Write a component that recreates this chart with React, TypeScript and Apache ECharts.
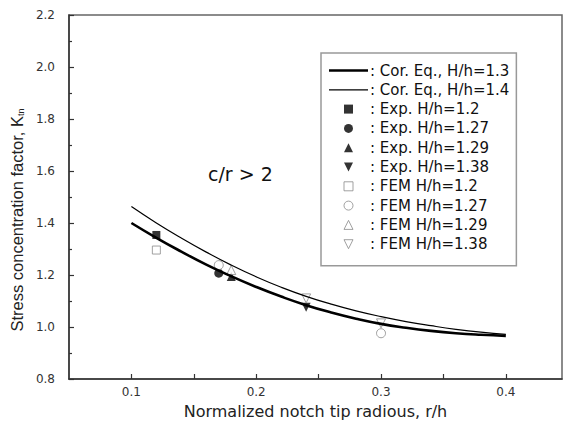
import React, { useEffect, useRef } from "react";
import * as echarts from "echarts";

const FONT = "'Liberation Sans', Arial, sans-serif";
const WIDE = "'DejaVu Sans', 'Liberation Sans', sans-serif";

// x-axis ticks / labels
const xTickValues = [0.1, 0.15, 0.2, 0.25, 0.3, 0.35, 0.4];
const xLabelValues = [0.1, 0.2, 0.3, 0.4];

// Correlation equations (curves)
const curveX = [0.1, 0.12, 0.14, 0.16, 0.18, 0.2, 0.22, 0.24, 0.26, 0.28, 0.3, 0.32, 0.34, 0.36, 0.38, 0.4];
const corEq13 = [1.4, 1.343, 1.29, 1.24, 1.195, 1.154, 1.117, 1.084, 1.056, 1.032, 1.012, 0.997, 0.985, 0.976, 0.97, 0.966];
const corEq14 = [1.463, 1.4, 1.342, 1.288, 1.238, 1.193, 1.153, 1.118, 1.088, 1.062, 1.04, 1.021, 1.005, 0.991, 0.98, 0.972];

// Experimental points
const exp12 = [[0.12, 1.354]];
const exp127 = [[0.17, 1.207]];
const exp129 = [[0.18, 1.194]];
const exp138 = [[0.24, 1.076]];

// FEM points
const fem12 = [[0.12, 1.296]];
const fem127 = [[0.17, 1.238], [0.3, 0.976]];
const fem129 = [[0.18, 1.219]];
const fem138 = [[0.24, 1.11], [0.3, 1.014]];

const names = [
  ": Cor. Eq., H/h=1.3",
  ": Cor. Eq., H/h=1.4",
  ": Exp. H/h=1.2",
  ": Exp. H/h=1.27",
  ": Exp. H/h=1.29",
  ": Exp. H/h=1.38",
  ": FEM H/h=1.2",
  ": FEM H/h=1.27",
  ": FEM H/h=1.29",
  ": FEM H/h=1.38",
];

const ICON_SQUARE = "path://M0,0H10V10H0Z";
const ICON_CIRCLE = "path://M5,0A5,5,0,1,1,5,10A5,5,0,1,1,5,0Z";
const ICON_UP = "path://M5,0L10,10H0Z";
const ICON_DOWN = "path://M0,0H10L5,10Z";

export default function App() {
  const ref = useRef<HTMLDivElement>(null);
  useEffect(() => {
    if (!ref.current) return;
    const chart = echarts.init(ref.current, undefined, { renderer: "svg" });
    const filled = { color: "#000" };
    const hollow = { color: "#fff", borderColor: "#8a8a8a", borderWidth: 1 };
    const sz = 8;
    const icons = [
      "path://M0,0H40V2.6H0Z",
      "path://M0,0H40V1.2H0Z",
      ICON_SQUARE, ICON_CIRCLE, ICON_UP, ICON_DOWN,
      ICON_SQUARE, ICON_CIRCLE, ICON_UP, ICON_DOWN,
    ];
    const legendData = names.map((n, i) => {
      const isHollow = i >= 6;
      const style = i < 2
        ? { color: "#000", borderWidth: 0 }
        : isHollow
          ? { color: "#fff", borderColor: "#8a8a8a", borderWidth: 1 }
          : { color: "#000", borderWidth: 0 };
      return { name: n, icon: icons[i], itemStyle: style, symbolRotate: 0 };
    });
    const option: any = {
      animation: false,
      backgroundColor: "#fff",
      grid: { left: 66, right: 5, top: 15, bottom: 57, show: true, borderColor: "#666", borderWidth: 1.5, backgroundColor: "transparent" },
      legend: {
        orient: "vertical",
        left: 321,
        top: 53,
        padding: [10, 7, 14, 8],
        itemWidth: 39,
        itemHeight: 9,
        itemGap: 4.3,
        symbolKeepAspect: true,
        symbolRotate: 0,
        selectedMode: false,
        backgroundColor: "#fff",
        borderColor: "#999",
        borderWidth: 1.5,
        borderRadius: 0,
        textStyle: { fontSize: 15, color: "#111", fontFamily: WIDE, padding: [0, 0, 0, -3] },
        data: legendData,
      },
      xAxis: {
        type: "value",
        min: 0.05,
        max: 0.445,
        interval: 0.05,
        name: "Normalized notch tip radious, r/h",
        nameLocation: "middle",
        nameGap: 24,
        nameTextStyle: { fontSize: 16, color: "#222", fontFamily: WIDE },
        axisLine: { lineStyle: { color: "#333", width: 1.5 } },
        axisTick: { inside: true, length: 5, customValues: xTickValues, lineStyle: { color: "#333", width: 1.2 } },
        axisLabel: { customValues: xLabelValues, formatter: (v: number) => v.toFixed(1), color: "#333", fontSize: 12, fontFamily: WIDE, margin: 7 },
        splitLine: { show: false },
      },
      yAxis: {
        type: "value",
        min: 0.8,
        max: 2.2,
        interval: 0.2,
        name: "Stress concentration factor, K{s|tn}",
        nameLocation: "middle",
        nameGap: 42,
        nameTextStyle: {
          fontSize: 16.5,
          color: "#222",
          fontFamily: FONT,
          padding: [0, 46, 0, 0],
          rich: { s: { fontSize: 9, fontFamily: FONT, color: "#222", verticalAlign: "bottom", padding: [6, 0, 0, 0] } },
        },
        axisLine: { lineStyle: { color: "#333", width: 1.5 } },
        axisTick: { inside: true, length: 5, lineStyle: { color: "#333", width: 1.2 } },
        minorTick: { show: true, splitNumber: 2, length: 3, lineStyle: { color: "#333", width: 1.2 } },
        axisLabel: { formatter: (v: number) => v.toFixed(1), color: "#333", fontSize: 12, fontFamily: WIDE, margin: 14 },
        splitLine: { show: false },
      },
      graphic: [
        { type: "text", left: 208, top: 164, style: { text: "c/r > 2", fontSize: 19, fill: "#111", fontFamily: WIDE } },
      ],
      series: [
        { name: names[2], type: "scatter", symbol: "rect", symbolSize: sz, itemStyle: filled, data: exp12 },
        { name: names[3], type: "scatter", symbol: "circle", symbolSize: sz + 1, itemStyle: filled, data: exp127 },
        { name: names[4], type: "scatter", symbol: "triangle", symbolSize: sz + 1, itemStyle: filled, data: exp129 },
        { name: names[5], type: "scatter", symbol: "triangle", symbolRotate: 180, symbolSize: sz + 1, itemStyle: filled, data: exp138 },
        { name: names[6], type: "scatter", symbol: "rect", symbolSize: sz, itemStyle: hollow, data: fem12 },
        { name: names[7], type: "scatter", symbol: "circle", symbolSize: sz + 1, itemStyle: hollow, data: fem127 },
        { name: names[8], type: "scatter", symbol: "triangle", symbolSize: sz + 1, itemStyle: hollow, data: fem129 },
        { name: names[9], type: "scatter", symbol: "triangle", symbolRotate: 180, symbolSize: sz + 1, itemStyle: hollow, data: fem138 },
        {
          name: names[0], type: "line", symbol: "none", smooth: true,
          lineStyle: { color: "#000", width: 2.6 }, itemStyle: { color: "#000" },
          data: curveX.map((x, i) => [x, corEq13[i]]),
        },
        {
          name: names[1], type: "line", symbol: "none", smooth: true,
          lineStyle: { color: "#000", width: 1.2 }, itemStyle: { color: "#000" },
          data: curveX.map((x, i) => [x, corEq14[i]]),
        },
      ],
    };
    chart.setOption(option);
    return () => chart.dispose();
  }, []);
  return <div ref={ref} style={{ width: 567, height: 436, position: "absolute", left: 0, top: 0 }} />;
}
